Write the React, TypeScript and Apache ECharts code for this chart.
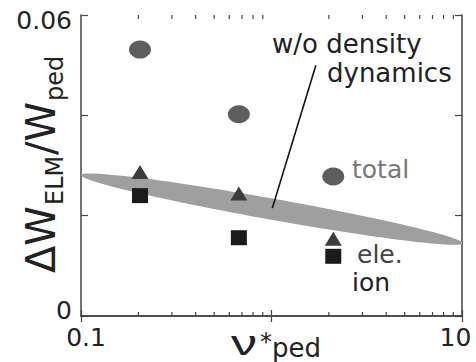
import React, { useEffect, useRef } from "react";
import * as echarts from "echarts";

// ---- data ----
const xRange = [0.1, 10];
const yRange = [0, 0.06];
const yInterval = 0.02;
const xTickLabels = ["0.1", "10"];
const yTickLabels = ["0", "0.06"];
const xMinorTicks = [0.2, 0.3, 0.4, 0.5, 0.6, 0.7, 0.8, 0.9, 2, 3, 4, 5, 6, 7, 8, 9];

const nuStar = [0.204, 0.674, 2.11];
const totalVals = [0.0531, 0.0402, 0.0278];
const eleVals = [0.0287, 0.0244, 0.0154];
const ionVals = [0.024, 0.0156, 0.0119];

// band "w/o density dynamics": start point, end point, half thickness
const bandStart = [0.1, 0.0281];
const bandEnd = [10.1, 0.0145];
const bandHalfWidth = 0.0021;

// pointer line from the annotation to the band
const pointerX = [1.71, 1.01];
const pointerY = [0.05, 0.0215];

const FONT = '"DejaVu Sans", "Liberation Sans", sans-serif';
const FONT2 = '"Liberation Sans", "DejaVu Sans", sans-serif';

// text placed by its baseline (vertical middle is ~0.35em above baseline)
function txt(text: string, x: number, baseline: number, size: number, fill: string, extra: any = {}, lh?: number, family: string = FONT) {
  const style: any = { text, font: size + "px " + family, fill, align: "left", verticalAlign: "middle" };
  if (lh) style.lineHeight = lh;
  return {
    type: "text",
    x,
    y: baseline - 0.35 * size,
    silent: true,
    ...extra,
    style,
  };
}

export default function App() {
  const ref = useRef<HTMLDivElement>(null);

  useEffect(() => {
    if (!ref.current) return;
    const chart = echarts.init(ref.current, undefined, { renderer: "svg" });

    const axisColor = "#444";
    const isClose = (a: number, b: number) => Math.abs(a - b) < 1e-9 * Math.max(1, Math.abs(b));

    const option: any = {
      animation: false,
      backgroundColor: "#ffffff",
      grid: {
        left: 81,
        right: 14,
        top: 15,
        bottom: 46,
        containLabel: false,
        outerBoundsMode: "none",
      },
      xAxis: [
        {
          type: "log",
          logBase: 10,
          min: xRange[0],
          max: xRange[1],
          position: "bottom",
          axisLine: { show: true, lineStyle: { color: axisColor, width: 1.5 } },
          axisTick: { show: true, inside: true, length: 6, lineStyle: { color: axisColor, width: 1.2 } },
          splitLine: { show: false },
          axisLabel: {
            show: true,
            margin: 9,
            color: "#222",
            fontFamily: FONT,
            fontSize: 25,
            formatter: (v: number) => {
              if (isClose(v, xRange[0])) return "{l|" + xTickLabels[0] + "}";
              if (isClose(v, xRange[1])) return "{r|" + xTickLabels[1] + "}";
              return "";
            },
            rich: {
              l: { fontFamily: FONT, fontSize: 25, color: "#222", padding: [0, 0, 0, 10] },
              r: { fontFamily: FONT, fontSize: 25, color: "#222", padding: [0, 13, 0, 0] },
            },
          },
        },
        {
          type: "log",
          logBase: 10,
          min: xRange[0],
          max: xRange[1],
          position: "top",
          axisLine: { show: true, lineStyle: { color: axisColor, width: 1.5 } },
          axisTick: { show: true, inside: true, length: 6, lineStyle: { color: axisColor, width: 1.2 } },
          splitLine: { show: false },
          axisLabel: { show: false },
        },
      ],
      yAxis: [
        {
          type: "value",
          min: yRange[0],
          max: yRange[1],
          interval: yInterval,
          position: "left",
          axisLine: { show: true, lineStyle: { color: axisColor, width: 1.5 } },
          axisTick: { show: true, inside: true, length: 7, lineStyle: { color: axisColor, width: 1.2 } },
          splitLine: { show: false },
          axisLabel: {
            show: true,
            margin: 9,
            color: "#222",
            fontFamily: FONT,
            fontSize: 25,
            formatter: (v: number) => {
              if (isClose(v, yRange[0])) return "{b|" + yTickLabels[0] + "}";
              if (isClose(v, yRange[1])) return "{t|" + yTickLabels[1] + "}";
              return "";
            },
            rich: {
              b: { fontFamily: FONT, fontSize: 25, color: "#222", padding: [0, 0, 12, 0] },
              t: { fontFamily: FONT, fontSize: 25, color: "#222", padding: [11, 0, 0, 0] },
            },
          },
        },
        {
          type: "value",
          min: yRange[0],
          max: yRange[1],
          interval: yInterval,
          position: "right",
          axisLine: { show: true, lineStyle: { color: axisColor, width: 1.5 } },
          axisTick: { show: true, inside: true, length: 7, lineStyle: { color: axisColor, width: 1.2 } },
          splitLine: { show: false },
          axisLabel: { show: false },
        },
      ],
      series: [
        {
          type: "custom",
          name: "band",
          silent: true,
          clip: true,
          z: 1,
          encode: { x: [0, 2], y: [1, 3] },
          data: [[bandStart[0], bandStart[1], bandEnd[0], bandEnd[1], bandHalfWidth]],
          renderItem: (params: any, api: any) => {
            const p1 = api.coord([api.value(0), api.value(1)]);
            const p2 = api.coord([api.value(2), api.value(3)]);
            const cx = (p1[0] + p2[0]) / 2;
            const cy = (p1[1] + p2[1]) / 2;
            const mid = api.coord([
              Math.sqrt(api.value(0) * api.value(2)),
              (api.value(1) + api.value(3)) / 2 + api.value(4),
            ]);
            const bPx = Math.abs(mid[1] - cy);
            const dx = p2[0] - p1[0];
            const dy = p2[1] - p1[1];
            const a = Math.hypot(dx, dy) / 2;
            const ang = Math.atan2(dy, dx);
            const pts: number[][] = [];
            const n = 120;
            for (let i = 0; i < n; i++) {
              const t = (i / n) * Math.PI * 2;
              const ex = a * Math.cos(t);
              const ey = bPx * Math.sin(t);
              pts.push([
                cx + ex * Math.cos(ang) - ey * Math.sin(ang),
                cy + ex * Math.sin(ang) + ey * Math.cos(ang),
              ]);
            }
            return { type: "polygon", shape: { points: pts }, style: { fill: "#9f9f9f" } };
          },
        },
        {
          type: "custom",
          name: "minorTicks",
          silent: true,
          clip: false,
          z: 5,
          encode: { x: 0, y: 1 },
          data: xMinorTicks.map((v) => [v, yRange[0]]),
          renderItem: (params: any, api: any) => {
            const x = api.value(0);
            const pb = api.coord([x, yRange[0]]);
            const pt = api.coord([x, yRange[1]]);
            const st = { stroke: axisColor, lineWidth: 1.2 };
            return {
              type: "group",
              children: [
                { type: "line", shape: { x1: pb[0], y1: pb[1], x2: pb[0], y2: pb[1] - 4 }, style: st },
                { type: "line", shape: { x1: pt[0], y1: pt[1], x2: pt[0], y2: pt[1] + 4 }, style: st },
              ],
            };
          },
        },
        {
          type: "line",
          name: "pointer",
          silent: true,
          symbol: "none",
          z: 3,
          lineStyle: { color: "#111", width: 1.6 },
          data: pointerX.map((x, i) => [x, pointerY[i]]),
        },
        {
          type: "scatter",
          name: "total",
          symbol: "circle",
          symbolSize: [22, 18],
          z: 4,
          itemStyle: { color: "#5e5e5e", opacity: 1 },
          data: nuStar.map((x, i) => [x, totalVals[i]]),
        },
        {
          type: "scatter",
          name: "ele.",
          symbol: "triangle",
          symbolSize: [17, 14],
          z: 4,
          itemStyle: { color: "#3c3c3c", opacity: 1 },
          data: nuStar.map((x, i) => [x, eleVals[i]]),
        },
        {
          type: "scatter",
          name: "ion",
          symbol: "rect",
          symbolSize: [16, 15],
          z: 4,
          itemStyle: { color: "#1b1b1b", opacity: 1 },
          data: nuStar.map((x, i) => [x, ionVals[i]]),
        },
      ],
      graphic: [
        // y-axis title (rotated; local x runs upward, local y runs right)
        {
          type: "group",
          x: 55,
          y: 273,
          rotation: Math.PI / 2,
          silent: true,
          children: [
            txt("ΔW", 0, 0, 40, "#222"),
            txt("ELM", 68, 8, 24, "#222"),
            txt("/W", 118, 0, 40, "#222"),
            txt("ped", 172, 8, 24, "#222"),
          ],
        },
        // x-axis title
        txt("ν", 231, 355, 36, "#222", { scaleX: 1.45 }, 24, FONT2),
        txt("*", 260, 350, 24, "#222", {}, 18),
        txt("ped", 272, 357, 26, "#222", {}, 22),
        // annotations
        txt("w/o density", 272, 53, 26, "#222"),
        txt("dynamics", 327, 82, 26, "#222"),
        txt("total", 352, 178, 25, "#777"),
        txt("ele.", 357, 263, 25, "#444"),
        txt("ion", 352, 291, 25, "#222"),
      ],
    };

    chart.setOption(option);
    return () => chart.dispose();
  }, []);

  return (
    <div
      ref={ref}
      style={{ position: "absolute", left: 0, top: 0, width: 476, height: 362, background: "#fff" }}
    />
  );
}
